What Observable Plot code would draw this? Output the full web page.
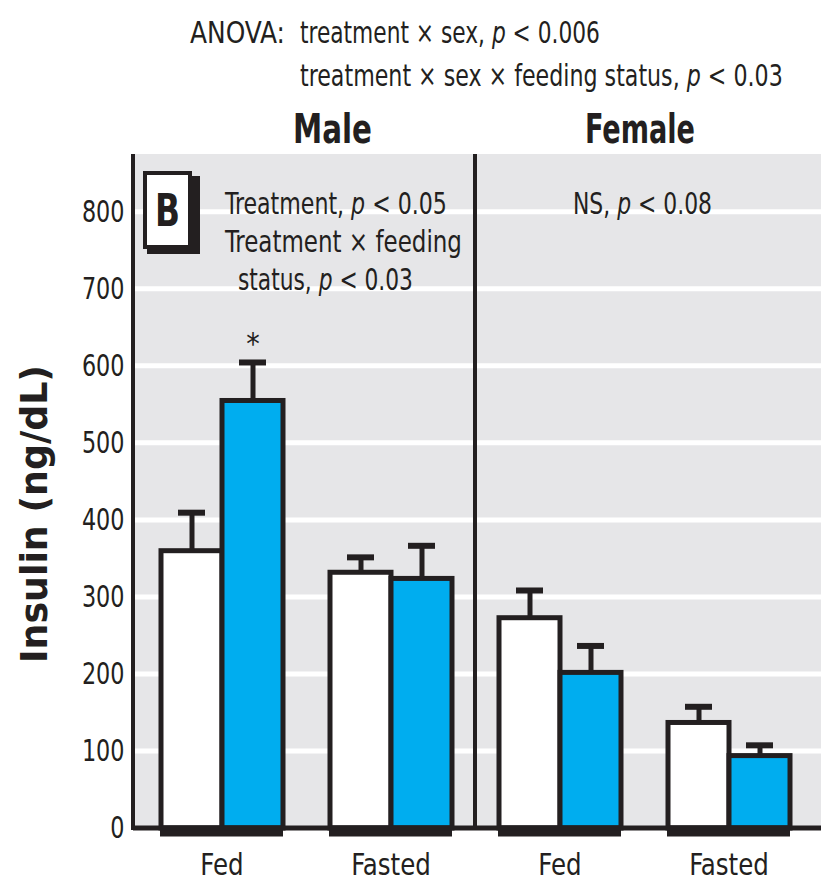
<!DOCTYPE html>
<html>
<head>
<meta charset="utf-8">
<script src="https://cdn.jsdelivr.net/npm/d3@7"></script>
<script src="https://cdn.jsdelivr.net/npm/@observablehq/plot@0.6"></script>
<style>
  body { margin: 0; background: #fff; }
  #chart svg { display: block; }
</style>
</head>
<body>
<div id="chart"></div>
<script>
// Insulin (ng/dL) by sex and feeding status, control vs treated (mean ± SE)
const sexes = ["Male", "Male", "Female", "Female"];
const feeding = ["Fed", "Fasted", "Fed", "Fasted"];
const treatments = ["Control", "Treated"];
const controlMean = [360, 332, 273, 137];
const controlSE = [50, 20, 36, 21];
const treatedMean = [555, 324, 202, 94];
const treatedSE = [50, 43, 35, 14];
const treatedSignificant = [true, false, false, false];
const yTicks = [0, 100, 200, 300, 400, 500, 600, 700, 800];
const gridTicks = [100, 200, 300, 400, 500, 600, 700, 800];

const INK = "#231f20";
const BLUE = "#00adef";
const PANEL = "#e6e6e8";
const FONT = "'Liberation Sans Narrow', 'Arial Narrow', 'DejaVu Sans Condensed', sans-serif";

const groups = sexes.map((s, i) => `${s} ${feeding[i]}`);
const rows = groups.flatMap((g, i) => [
  {group: g, treatment: "Control", mean: controlMean[i], se: controlSE[i], sig: false},
  {group: g, treatment: "Treated", mean: treatedMean[i], se: treatedSE[i], sig: treatedSignificant[i]}
]);

const chart = Plot.plot({
  width: 821,
  height: 889,
  marginTop: 154,
  marginLeft: 133,
  marginRight: 0,
  marginBottom: 61,
  style: {fontFamily: FONT, color: INK, background: "white", overflow: "visible"},
  fx: {domain: groups, paddingInner: 0.275, paddingOuter: 0.17, align: 0.46, label: null},
  x: {domain: treatments, padding: 0, axis: null},
  y: {domain: [0, 875]},
  marks: [
    // the y axis sits in the first facet, so its padding includes the outer facet gap
    Plot.axisY(yTicks, {tickSize: 0, tickPadding: 36, fontSize: 31, label: null}),
    Plot.axisFx({
      anchor: "bottom", tickSize: 0, tickPadding: 24, fontSize: 31, label: null,
      tickFormat: (g) => feeding[groups.indexOf(g)]
    }),
    Plot.barY(rows.filter((d) => d.treatment === "Control"), {
      fx: "group", x: "treatment", y: "mean", fill: "white", stroke: INK, strokeWidth: 5
    }),
    Plot.barY(rows.filter((d) => d.treatment === "Treated"), {
      fx: "group", x: "treatment", y: "mean", fill: BLUE, stroke: INK, strokeWidth: 5
    }),
    Plot.ruleX(rows, {
      fx: "group", x: "treatment", y1: "mean", y2: (d) => d.mean + d.se, stroke: INK, strokeWidth: 5
    }),
    Plot.tickY(rows, {
      fx: "group", x: "treatment", y: (d) => d.mean + d.se, stroke: INK, strokeWidth: 6,
      insetLeft: 17, insetRight: 17
    }),
    // heavy base under each pair of bars
    Plot.ruleY([0], {stroke: INK, strokeWidth: 11, dy: 2.5}),
    Plot.text(rows.filter((d) => d.sig), {
      fx: "group", x: "treatment", y: (d) => d.mean + d.se, text: () => "*",
      fontSize: 30, lineAnchor: "bottom", dy: -8, fill: INK
    })
  ]
});

document.getElementById("chart").append(chart);

const SVGNS = "http://www.w3.org/2000/svg";
const svg = d3.select(chart);
const fx = chart.scale("fx");
const y = chart.scale("y");
const yTop = y.apply(y.domain[1]);
const yBase = y.apply(0);
const left = fx.range[0];
const right = fx.range[1];

// grey panel and white gridlines, placed beneath every mark
const under = document.createElementNS(SVGNS, "g");
chart.insertBefore(under, chart.firstChild);
const ug = d3.select(under);
ug.append("rect").attr("x", left).attr("y", yTop).attr("width", right - left).attr("height", yBase - yTop)
  .attr("fill", PANEL);
ug.selectAll("line").data(gridTicks).join("line")
  .attr("x1", left).attr("x2", right)
  .attr("y1", (d) => y.apply(d)).attr("y2", (d) => y.apply(d))
  .attr("stroke", "white").attr("stroke-width", 5);

// x axis line, left axis line and the Male | Female divider
const divider = (fx.apply("Male Fasted") + fx.bandwidth + fx.apply("Female Fed")) / 2;
svg.append("line").attr("x1", left).attr("x2", right).attr("y1", yBase).attr("y2", yBase)
  .attr("stroke", INK).attr("stroke-width", 5);
svg.append("line").attr("x1", left).attr("x2", left).attr("y1", yTop).attr("y2", yBase + 2)
  .attr("stroke", INK).attr("stroke-width", 4);
svg.append("line").attr("x1", divider).attr("x2", divider).attr("y1", yTop).attr("y2", yBase)
  .attr("stroke", INK).attr("stroke-width", 4);

// condense the axis tick labels horizontally about their anchor points
function condense(selector, sx) {
  chart.querySelectorAll(`${selector} text`).forEach((t) => {
    const tr = t.getAttribute("transform") || "";
    t.setAttribute("transform", `${tr} scale(${sx},1)`);
  });
}
condense('[aria-label="y-axis tick label"]', 0.8);
condense('[aria-label="fx-axis tick label"]', 0.88);

// text helper: parts are [string, italic?]; width squeezes the line to a set length
function label(parts, x, yy, {size = 31, weight = "normal", anchor = "start", width = null, rotate = 0} = {}) {
  const t = svg.append("text")
    .attr("font-family", FONT)
    .attr("font-size", size)
    .attr("font-weight", weight)
    .attr("fill", INK)
    .attr("text-anchor", anchor);
  for (const [s, it] of (typeof parts === "string" ? [[parts, false]] : parts)) {
    t.append("tspan").attr("font-style", it ? "italic" : "normal").text(s);
  }
  const sx = width ? width / t.node().getComputedTextLength() : 1;
  t.attr("transform", `translate(${x},${yy})` + (rotate ? ` rotate(${rotate})` : "") + ` scale(${sx},1)`);
  return t;
}

// header
label("ANOVA:", 190, 43, {width: 95});
label([["treatment \u00d7 sex, ", false], ["p", true], [" < 0.006", false]], 300, 43, {width: 300});
label([["treatment \u00d7 sex \u00d7 feeding status, ", false], ["p", true], [" < 0.03", false]], 300, 86, {width: 483});
label("Male", 293, 143, {size: 40, weight: "bold", width: 79});
label("Female", 585, 143, {size: 40, weight: "bold", width: 110});

// y axis title
label("Insulin (ng/dL)", 47, 514, {size: 38, weight: "bold", anchor: "middle", rotate: -90, width: 298});

// panel letter box with drop shadow
svg.append("rect").attr("x", 147).attr("y", 176).attr("width", 53).attr("height", 78).attr("fill", INK);
svg.append("rect").attr("x", 145).attr("y", 173).attr("width", 45).attr("height", 74)
  .attr("fill", "white").attr("stroke", INK).attr("stroke-width", 4);
label("B", 167.5, 226, {size: 44, weight: "bold", anchor: "middle", width: 25});

// statistics notes
label([["Treatment, ", false], ["p", true], [" < 0.05", false]], 225, 214, {width: 222});
label("Treatment \u00d7 feeding", 225, 252, {width: 237});
label([["status, ", false], ["p", true], [" < 0.03", false]], 238, 290, {width: 175});
label([["NS, ", false], ["p", true], [" < 0.08", false]], 573, 214, {width: 139});
</script>
</body>
</html>
